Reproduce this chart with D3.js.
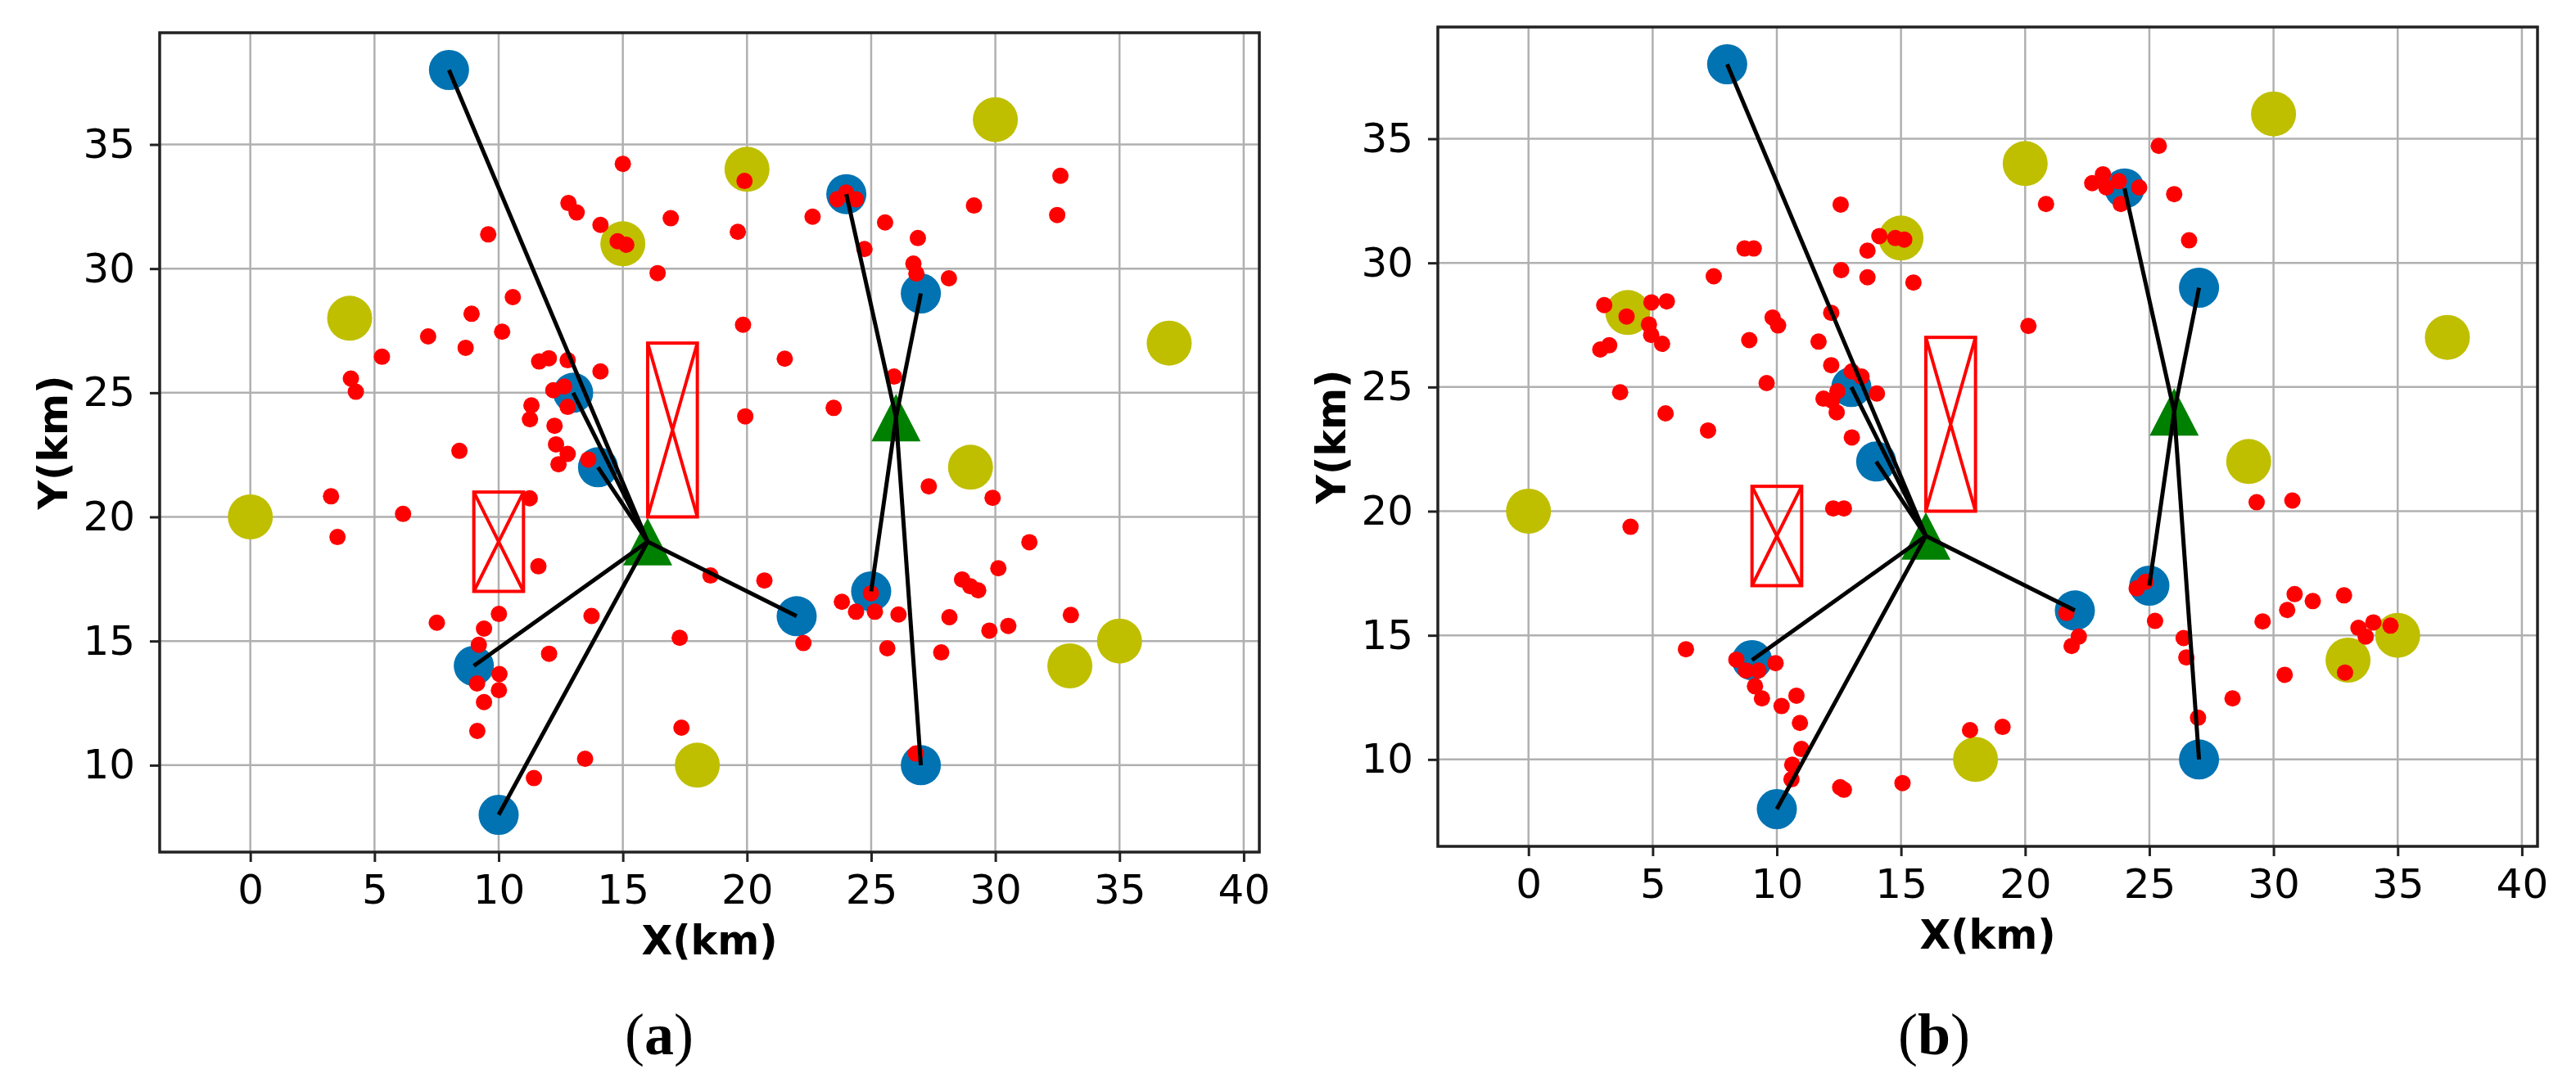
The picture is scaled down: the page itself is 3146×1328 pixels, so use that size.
<!DOCTYPE html>
<html>
<head>
<meta charset="utf-8">
<script src="https://cdn.jsdelivr.net/npm/d3@7"></script>
<style>
  html, body { margin: 0; padding: 0; background: #fff; }
  svg { display: block; }
</style>
</head>
<body>
<div id="chart"></div>
<script>
// ── data (km) ──────────────────────────────────────────────────────────────
const xTicks = [0, 5, 10, 15, 20, 25, 30, 35, 40];
const yTicks = [10, 15, 20, 25, 30, 35];

// candidate sites (yellow)
const sitePts = [[0, 20], [4, 28], [15, 31], [20, 34], [30, 36], [37, 27], [29, 22], [35, 15], [33, 14], [18, 10]];
// served nodes (blue)
const nodePts = [[8, 38], [13, 25], [14, 22], [9, 14], [10, 8], [22, 16], [24, 33], [27, 29], [25, 17], [27, 10]];
// hubs (green triangles)
const hubPts = [[16, 19], [26, 24]];
// links: [hub index, node index]
const links = [[0, 0], [0, 1], [0, 2], [0, 3], [0, 4], [0, 5], [1, 6], [1, 7], [1, 8], [1, 9]];
// no-go zones: [x0, y0, x1, y1]
const zones = [[9, 17, 11, 21], [16, 20, 18, 27]];

// demand points, case (a)
const demandA = [
  [15.0, 34.22], [12.81, 32.64], [13.14, 32.26], [14.10, 31.76], [16.93, 32.03], [9.58, 31.38],
  [14.79, 31.1], [15.14, 30.96], [16.40, 29.82], [10.57, 28.85], [8.91, 28.18], [10.14, 27.46],
  [7.16, 27.27], [8.67, 26.81], [5.30, 26.45], [11.63, 26.26], [12.02, 26.39], [12.78, 26.31],
  [14.10, 25.86], [4.05, 25.57], [4.25, 25.04], [12.2, 25.1], [12.64, 25.25], [12.78, 24.43],
  [11.32, 24.49], [11.26, 23.93], [12.25, 23.67], [12.31, 22.92], [12.78, 22.54], [12.41, 22.12],
  [13.61, 22.31], [8.42, 22.66], [3.25, 20.83], [6.15, 20.12], [3.51, 19.19], [11.25, 20.75],
  [11.60, 18.01], [7.51, 15.74], [10.01, 16.09], [9.41, 15.5], [9.20, 14.85], [13.74, 16.01],
  [17.29, 15.13], [12.03, 14.49], [10.03, 13.67], [9.13, 13.29], [10.01, 13.02], [9.41, 12.54],
  [9.14, 11.38], [17.36, 11.51], [13.48, 10.26], [11.42, 9.48], [18.53, 17.64],
  [19.9, 33.53], [19.63, 31.48], [22.64, 32.09], [23.63, 32.79], [23.99, 33.06], [24.39, 32.79],
  [25.56, 31.86], [26.88, 31.23], [24.73, 30.79], [26.70, 30.2], [26.82, 29.8], [28.13, 29.61],
  [29.14, 32.54], [32.62, 33.74], [32.49, 32.16], [19.84, 27.74], [21.52, 26.37], [25.92, 25.65],
  [19.93, 24.05], [23.49, 24.39], [27.32, 21.23], [29.89, 20.77], [31.37, 18.98], [30.12, 17.93],
  [28.66, 17.48], [28.99, 17.21], [29.31, 17.04], [20.70, 17.44], [24.99, 16.92], [23.82, 16.58],
  [24.39, 16.18], [25.15, 16.18], [26.10, 16.07], [28.15, 15.96], [29.76, 15.42], [30.52, 15.61],
  [33.04, 16.05], [22.27, 14.92], [25.65, 14.71], [27.82, 14.54], [26.8, 10.47]
];

// demand points, case (b)
const demandB = [
  [12.57, 32.35], [8.70, 30.58], [9.07, 30.58], [14.13, 31.08], [14.77, 31.0], [15.13, 30.94],
  [13.65, 30.49], [12.59, 29.71], [13.65, 29.42], [15.5, 29.21], [7.46, 29.46], [3.05, 28.30],
  [3.95, 27.84], [4.95, 28.41], [5.57, 28.45], [4.85, 27.52], [4.94, 27.10], [5.38, 26.74],
  [2.89, 26.51], [3.25, 26.68], [9.83, 27.8], [10.05, 27.48], [8.89, 26.89], [12.19, 27.99],
  [11.68, 26.83], [12.19, 25.88], [13.02, 25.63], [13.41, 25.42], [11.88, 24.53], [12.22, 24.45],
  [12.41, 23.98], [12.44, 24.83], [14.03, 24.74], [9.59, 25.16], [3.69, 24.79], [5.52, 23.94],
  [7.23, 23.25], [13.02, 22.97], [12.27, 20.11], [12.70, 20.11], [4.11, 19.37], [6.34, 14.44],
  [8.37, 14.02], [8.76, 13.58], [9.26, 13.58], [9.95, 13.88], [9.12, 12.95], [9.40, 12.46],
  [10.79, 12.57], [10.19, 12.15], [10.93, 11.47], [10.99, 10.42], [10.62, 9.79], [10.59, 9.20],
  [12.55, 8.88], [12.7, 8.78], [15.06, 9.05], [17.78, 11.18],
  [25.38, 34.71], [23.13, 33.57], [22.70, 33.21], [23.27, 33.04], [23.77, 33.29], [24.59, 33.04],
  [23.85, 32.37], [26.0, 32.77], [26.6, 30.91], [20.84, 32.37], [20.13, 27.46], [29.32, 20.36],
  [30.76, 20.43], [24.49, 16.89], [24.85, 17.16], [21.66, 15.9], [22.16, 14.95], [21.87, 14.57],
  [25.23, 15.58], [26.38, 14.89], [26.49, 14.11], [26.96, 11.68], [28.35, 12.46], [29.56, 15.56],
  [30.85, 16.66], [30.55, 16.02], [31.58, 16.38], [30.45, 13.41], [32.84, 16.61], [33.42, 15.30],
  [33.71, 14.95], [34.02, 15.52], [34.71, 15.39], [32.88, 13.50], [19.09, 11.31]
];

// ── layout ─────────────────────────────────────────────────────────────────
const W = 3146, H = 1328;
const PW = 1343, PH = 1001;
const panels = [
  { left: 195, top: 40, demand: demandA, tag: 'a', capX: 805 },
  { left: 1756, top: 33, demand: demandB, tag: 'b', capX: 2362 }
];

const C_SITE = '#bfbf00', C_NODE = '#0173b2', C_DEM = '#ff0000', C_HUB = '#008000';
const FONT = '"DejaVu Sans", sans-serif';

const svg = d3.select('#chart').append('svg')
  .attr('width', W).attr('height', H)
  .style('background', '#fff');

function drawPanel(p) {
  const x = d3.scaleLinear().domain([-3.65, 40.63]).range([0, PW]);
  const y = d3.scaleLinear().domain([6.5, 39.5]).range([PH, 0]);

  const g = svg.append('g').attr('transform', `translate(${p.left},${p.top})`);

  // grid
  g.append('g').selectAll('line').data(xTicks).join('line')
    .attr('x1', d => x(d)).attr('x2', d => x(d)).attr('y1', 0).attr('y2', PH)
    .attr('stroke', '#b0b0b0').attr('stroke-width', 2.5);
  g.append('g').selectAll('line').data(yTicks).join('line')
    .attr('y1', d => y(d)).attr('y2', d => y(d)).attr('x1', 0).attr('x2', PW)
    .attr('stroke', '#b0b0b0').attr('stroke-width', 2.5);

  // sites
  g.append('g').selectAll('circle').data(sitePts).join('circle')
    .attr('cx', d => x(d[0])).attr('cy', d => y(d[1])).attr('r', 27.5)
    .attr('fill', C_SITE);

  // nodes
  g.append('g').selectAll('circle').data(nodePts).join('circle')
    .attr('cx', d => x(d[0])).attr('cy', d => y(d[1])).attr('r', 24.5)
    .attr('fill', C_NODE);

  // demand points
  g.append('g').selectAll('circle').data(p.demand).join('circle')
    .attr('cx', d => x(d[0])).attr('cy', d => y(d[1])).attr('r', 10)
    .attr('fill', C_DEM);

  // hubs
  g.append('g').selectAll('path').data(hubPts).join('path')
    .attr('d', d => {
      const cx = x(d[0]), cy = y(d[1]);
      return `M${cx},${cy - 29}L${cx - 30},${cy + 29}L${cx + 30},${cy + 29}Z`;
    })
    .attr('fill', C_HUB);

  // zones: box with both diagonals
  const zg = g.append('g').selectAll('g').data(zones).join('g');
  zg.append('rect')
    .attr('x', d => x(d[0])).attr('y', d => y(d[3]))
    .attr('width', d => x(d[2]) - x(d[0])).attr('height', d => y(d[1]) - y(d[3]))
    .attr('fill', 'none').attr('stroke', C_DEM).attr('stroke-width', 4);
  zg.append('path')
    .attr('d', d => `M${x(d[0])},${y(d[1])}L${x(d[2])},${y(d[3])}M${x(d[0])},${y(d[3])}L${x(d[2])},${y(d[1])}`)
    .attr('fill', 'none').attr('stroke', C_DEM).attr('stroke-width', 4);

  // links
  g.append('g').selectAll('line').data(links).join('line')
    .attr('x1', d => x(hubPts[d[0]][0])).attr('y1', d => y(hubPts[d[0]][1]))
    .attr('x2', d => x(nodePts[d[1]][0])).attr('y2', d => y(nodePts[d[1]][1]))
    .attr('stroke', '#000').attr('stroke-width', 5);

  // axes
  const ax = g.append('g').attr('transform', `translate(0,${PH})`)
    .call(d3.axisBottom(x).tickValues(xTicks).tickSize(12).tickPadding(15).tickFormat(d3.format('d')));
  const ay = g.append('g')
    .call(d3.axisLeft(y).tickValues(yTicks).tickSize(12).tickPadding(18).tickFormat(d3.format('d')));
  [ax, ay].forEach(a => {
    a.select('.domain').remove();
    a.selectAll('line').attr('stroke', '#222').attr('stroke-width', 3);
    a.selectAll('text').attr('fill', '#000').style('font-family', FONT).style('font-size', '50px');
  });

  // frame
  g.append('rect').attr('width', PW).attr('height', PH)
    .attr('fill', 'none').attr('stroke', '#222').attr('stroke-width', 3.5);

  // axis titles
  g.append('text')
    .attr('x', PW / 2).attr('y', PH + 125)
    .attr('text-anchor', 'middle')
    .style('font-family', FONT).style('font-size', '49px').style('font-weight', 'bold')
    .text('X(km)');
  g.append('text')
    .attr('transform', `translate(-113,${PH / 2}) rotate(-90)`)
    .attr('text-anchor', 'middle')
    .style('font-family', FONT).style('font-size', '49px').style('font-weight', 'bold')
    .text('Y(km)');

  // caption
  const cap = svg.append('text')
    .attr('x', p.capX).attr('y', 1288)
    .attr('text-anchor', 'middle')
    .style('font-family', '"Liberation Serif", "Times New Roman", serif')
    .style('font-size', '72px');
  cap.append('tspan').text('(');
  cap.append('tspan').style('font-weight', 'bold').text(p.tag);
  cap.append('tspan').text(')');
}

panels.forEach(drawPanel);
</script>
</body>
</html>
